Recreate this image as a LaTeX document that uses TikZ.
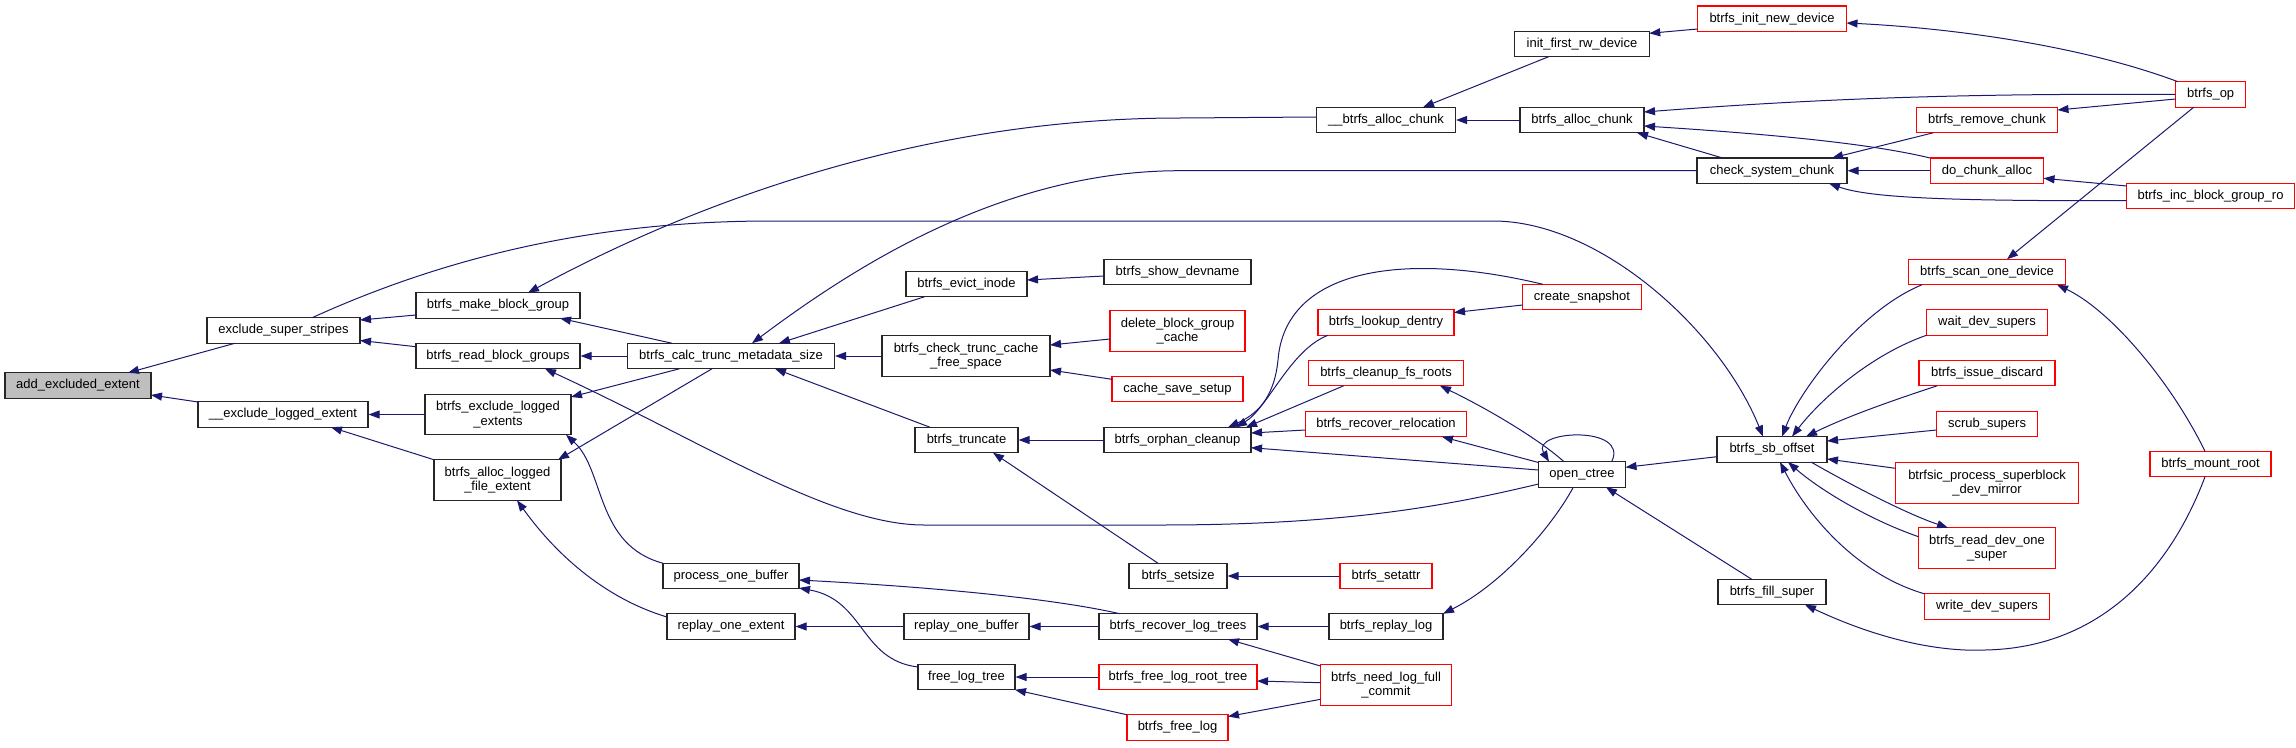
\documentclass[tikz,border=0pt]{standalone}
\usepackage{fontspec}
\setmainfont{Liberation Sans}
\usetikzlibrary{arrows.meta}
\definecolor{edgeblue}{HTML}{191970}
\definecolor{nodegray}{HTML}{BFBFBF}
\tikzset{
  box/.style={draw=black!85, line width=1.1pt, fill=white, inner sep=0pt, align=center,
    font=\fontsize{13}{14.5}\selectfont, minimum height=25.5pt},
  redbox/.style={box, draw=red},
  tall/.style={minimum height=40.5pt},
  edge/.style={draw=edgeblue, line width=1pt, arrows={Triangle[length=11pt,width=8pt]-}},
}
\begin{document}
\begin{tikzpicture}[x=1pt,y=-1pt]
\useasboundingbox (0,0) rectangle (2296,747);
% column 1
\node[box, fill=nodegray, minimum width=146pt] (aee) at (78,385.5) {add\_excluded\_extent};
% column 2
\node[box, minimum width=153pt] (ess) at (283.5,330.5) {exclude\_super\_stripes};
\node[box, minimum width=170pt] (ele) at (283,414.5) {\_\_exclude\_logged\_extent};
% column 3
\node[box, minimum width=164pt] (mbg) at (498,305.5) {btrfs\_make\_block\_group};
\node[box, minimum width=164pt] (rbg) at (498,356) {btrfs\_read\_block\_groups};
\node[box, tall, minimum width=146pt] (bel) at (498,414.5) {btrfs\_exclude\_logged\\\_extents};
\node[box, tall, minimum width=127pt] (bal) at (497.5,480) {btrfs\_alloc\_logged\\\_file\_extent};
% column 4
\node[box, minimum width=207pt] (calc) at (731,356) {btrfs\_calc\_trunc\_metadata\_size};
\node[box, minimum width=136pt] (pob) at (731,576) {process\_one\_buffer};
\node[box, minimum width=128pt] (roe) at (731,626.5) {replay\_one\_extent};
% column 5
\node[box, minimum width=121pt] (evict) at (966.5,284) {btrfs\_evict\_inode};
\node[box, tall, minimum width=168pt] (ctc) at (966,356) {btrfs\_check\_trunc\_cache\\\_free\_space};
\node[box, minimum width=103pt] (trunc) at (966.5,440) {btrfs\_truncate};
\node[box, minimum width=125pt] (rob) at (966.5,626.5) {replay\_one\_buffer};
\node[box, minimum width=97pt] (flt) at (966.5,677) {free\_log\_tree};
% column 6
\node[box, minimum width=147pt] (showdev) at (1177.5,272) {btrfs\_show\_devname};
\node[redbox, tall, minimum width=135pt] (dbgc) at (1177.5,331) {delete\_block\_group\\\_cache};
\node[redbox, minimum width=131pt] (css) at (1177.5,389) {cache\_save\_setup};
\node[box, minimum width=147pt] (orphan) at (1177.5,440) {btrfs\_orphan\_cleanup};
\node[box, minimum width=98pt] (setsize) at (1178,576) {btrfs\_setsize};
\node[box, minimum width=158pt] (rlt) at (1178,626.5) {btrfs\_recover\_log\_trees};
\node[redbox, minimum width=158pt] (flrt) at (1178,677) {btrfs\_free\_log\_root\_tree};
\node[redbox, minimum width=101pt] (bfl) at (1177.5,727.5) {btrfs\_free\_log};
% column 7
\node[box, minimum width=139pt] (bac2) at (1386,120) {\_\_btrfs\_alloc\_chunk};
\node[redbox, minimum width=136pt] (lookup) at (1386,322.5) {btrfs\_lookup\_dentry};
\node[redbox, minimum width=155pt] (cfr) at (1386,373) {btrfs\_cleanup\_fs\_roots};
\node[redbox, minimum width=161.5pt] (rr) at (1386,424) {btrfs\_recover\_relocation};
\node[redbox, minimum width=92pt] (setattr) at (1386,576) {btrfs\_setattr};
\node[box, minimum width=114pt] (rlog) at (1386,626.5) {btrfs\_replay\_log};
\node[redbox, tall, minimum width=131pt] (nlfc) at (1386,685) {btrfs\_need\_log\_full\\\_commit};
% column 8
\node[box, minimum width=134.5pt] (ifrw) at (1582,44) {init\_first\_rw\_device};
\node[box, minimum width=124pt] (bac) at (1582,120) {btrfs\_alloc\_chunk};
\node[redbox, minimum width=118.6pt] (cs) at (1582,297) {create\_snapshot};
\node[box, minimum width=87pt] (oc) at (1582,474.5) {open\_ctree};
% column 9
\node[redbox, minimum width=149pt] (bind) at (1772,18.7) {btrfs\_init\_new\_device};
\node[box, minimum width=150pt] (csc) at (1772,170.7) {check\_system\_chunk};
\node[box, minimum width=110pt] (sbo) at (1772,449.3) {btrfs\_sb\_offset};
\node[box, minimum width=108pt] (fill) at (1772,592) {btrfs\_fill\_super};
% column 10
\node[redbox, minimum width=141pt] (brc) at (1987,120) {btrfs\_remove\_chunk};
\node[redbox, minimum width=113pt] (dca) at (1987,170.7) {do\_chunk\_alloc};
\node[redbox, minimum width=157pt] (sod) at (1987,272) {btrfs\_scan\_one\_device};
\node[redbox, minimum width=121pt] (wds) at (1987,322.5) {wait\_dev\_supers};
\node[redbox, minimum width=136pt] (bid) at (1987,373) {btrfs\_issue\_discard};
\node[redbox, minimum width=101pt] (ss) at (1987,424) {scrub\_supers};
\node[redbox, tall, minimum width=183pt] (bpsdm) at (1987,483) {btrfsic\_process\_superblock\\\_dev\_mirror};
\node[redbox, tall, minimum width=137pt] (rdos) at (1987,548) {btrfs\_read\_dev\_one\\\_super};
\node[redbox, minimum width=125.5pt] (wdsup) at (1987,606.5) {write\_dev\_supers};
% column 11
\node[redbox, minimum width=70pt] (bop) at (2210.7,94.5) {btrfs\_op};
\node[redbox, minimum width=167.6pt] (bigro) at (2210.5,196) {btrfs\_inc\_block\_group\_ro};
\node[redbox, minimum width=121pt] (mroot) at (2210.5,464) {btrfs\_mount\_root};

% edges (arrow tip at the start of each path)
\draw[edge] ([shift={(50,-12.75)}]aee.center) -- ([shift={(-48.5,12.75)}]ess.center);
\draw[edge] ([shift={(73,9.5)}]aee.center) -- ([shift={(-85,-12.5)}]ele.center);
\draw[edge] ([shift={(76.5,-10.5)}]ess.center) -- ([shift={(-82,9.5)}]mbg.center);
\draw[edge] ([shift={(76.5,10)}]ess.center) -- ([shift={(-82,-9.3)}]rbg.center);
\draw[edge] ([shift={(-9,-12.75)}]sbo.center) .. controls (1720,330) and (1600,221) .. (1493,221) -- (771,221) .. controls (600,221) and (450,255) .. ([shift={(28.5,-12.75)}]ess.center);
\draw[edge] ([shift={(30,-12.75)}]mbg.center) .. controls (640,232) and (880,118) .. (1180,118) -- ([shift={(-69.5,-3)}]bac2.center);
\draw[edge] (rbg.east) -- (calc.west);
\draw[edge] ([shift={(62,12.75)}]mbg.center) -- ([shift={(-59,-12.75)}]calc.center);
\draw[edge] ([shift={(47,12.75)}]rbg.center) .. controls (700,440) and (830,525) .. (924,525) -- (1160,525) .. controls (1350,525) and (1450,505) .. ([shift={(-43.5,9.5)}]oc.center);
\draw[edge] (ele.east) -- (bel.west);
\draw[edge] ([shift={(48,12.75)}]ele.center) -- ([shift={(-63.5,-20.25)}]bal.center);
\draw[edge] ([shift={(73,-17.5)}]bel.center) -- ([shift={(-51.5,12.75)}]calc.center);
\draw[edge] ([shift={(60.5,-20.25)}]bal.center) -- ([shift={(-19,12.75)}]calc.center);
\draw[edge] ([shift={(68,20.25)}]bel.center) .. controls (605,470) and (595,545) .. ([shift={(-68,-12.75)}]pob.center);
\draw[edge] ([shift={(19.5,20.25)}]bal.center) .. controls (560,560) and (610,600) .. ([shift={(-64,-9.5)}]roe.center);
\draw[edge] ([shift={(48,-12.75)}]calc.center) -- ([shift={(-42,12.75)}]evict.center);
\draw[edge] ([shift={(21,-12.75)}]calc.center) .. controls (850,270) and (1000,170.7) .. (1180,170.7) -- (csc.west);
\draw[edge] (calc.east) -- (ctc.west);
\draw[edge] ([shift={(44,12.75)}]calc.center) -- ([shift={(-36.5,-12.75)}]trunc.center);
\draw[edge] ([shift={(60.5,-4)}]evict.center) -- ([shift={(-73.5,4)}]showdev.center);
\draw[edge] ([shift={(84,-11)}]ctc.center) -- ([shift={(-67.5,8)}]dbgc.center);
\draw[edge] ([shift={(84,14)}]ctc.center) -- ([shift={(-65.5,-9.7)}]css.center);
\draw[edge] (trunc.east) -- (orphan.west);
\draw[edge] ([shift={(26.5,12.75)}]trunc.center) -- ([shift={(-20,-12.75)}]setsize.center);
\draw[edge] ([shift={(68,4)}]pob.center) .. controls (950,588) and (1060,600) .. ([shift={(-58,-12.75)}]rlt.center);
\draw[edge] ([shift={(68,12)}]pob.center) .. controls (865,600) and (860,660) .. ([shift={(-48.5,-10)}]flt.center);
\draw[edge] (roe.east) -- (rob.west);
\draw[edge] (rob.east) -- (rlt.west);
\draw[edge] (flt.east) -- (flrt.west);
\draw[edge] ([shift={(48.5,12.75)}]flt.center) -- ([shift={(-50.5,-12.75)}]bfl.center);
\draw[edge] ([shift={(37,-12.75)}]bac2.center) -- ([shift={(-33.5,12.75)}]ifrw.center);
\draw[edge] (bac2.east) -- (bac.west);
\draw[edge] ([shift={(67.25,-10.7)}]ifrw.center) -- ([shift={(-74.5,10.3)}]bind.center);
\draw[edge] ([shift={(62,-8)}]bac.center) .. controls (1800,100) and (1950,93) .. (bop.west);
\draw[edge] ([shift={(62,6)}]bac.center) .. controls (1800,136) and (1880,146) .. ([shift={(-57,-12.75)}]dca.center);
\draw[edge] ([shift={(55,12.75)}]bac.center) -- ([shift={(-49.5,-12.75)}]csc.center);
\draw[edge] ([shift={(68,-10)}]lookup.center) -- ([shift={(-59.3,8)}]cs.center);
\draw[edge] ([shift={(50.5,-12.75)}]orphan.center) .. controls (1255,415) and (1274,400) .. (1278,360) .. controls (1285,270) and (1400,250) .. ([shift={(-39.3,-12.75)}]cs.center);
\draw[edge] ([shift={(58.5,-12.75)}]orphan.center) .. controls (1268,408) and (1290,350) .. ([shift={(-58,12.75)}]lookup.center);
\draw[edge] ([shift={(68.5,-12.75)}]orphan.center) -- ([shift={(-42.3,12.75)}]cfr.center);
\draw[edge] ([shift={(73.5,-7)}]orphan.center) -- ([shift={(-80.75,6)}]rr.center);
\draw[edge] ([shift={(73.5,7.7)}]orphan.center) -- ([shift={(-43.5,-4.5)}]oc.center);
\draw[edge] ([shift={(54,12.75)}]cfr.center) .. controls (1490,410) and (1540,440) .. ([shift={(-18,-12.75)}]oc.center);
\draw[edge] ([shift={(56,12.75)}]rr.center) -- ([shift={(-43.5,-12)}]oc.center);
\draw[edge] ([shift={(-33,-12.75)}]oc.center) .. controls (1530,430) and (1630,425) .. ([shift={(29.6,-12.75)}]oc.center);
\draw[edge] ([shift={(43.5,-7.2)}]oc.center) -- ([shift={(-55,7.4)}]sbo.center);
\draw[edge] ([shift={(24,12.75)}]oc.center) -- ([shift={(-20.3,-12.75)}]fill.center);
\draw[edge] ([shift={(57,-12.75)}]rlog.center) .. controls (1500,585) and (1550,530) .. ([shift={(-8.7,12.75)}]oc.center);
\draw[edge] (setsize.east) -- (setattr.west);
\draw[edge] (rlt.east) -- (rlog.west);
\draw[edge] ([shift={(50,12.75)}]rlt.center) -- ([shift={(-65.5,-19)}]nlfc.center);
\draw[edge] ([shift={(79,4)}]flrt.center) -- ([shift={(-65.5,-2.3)}]nlfc.center);
\draw[edge] ([shift={(50.5,-11)}]bfl.center) -- ([shift={(-65.5,14.3)}]nlfc.center);
\draw[edge] ([shift={(74.5,4.3)}]bind.center) .. controls (1950,28) and (2080,45) .. ([shift={(-32.7,-12.75)}]bop.center);
\draw[edge] ([shift={(70.5,-10)}]brc.center) -- ([shift={(-35,4.5)}]bop.center);
\draw[edge] ([shift={(60,-12.75)}]csc.center) -- ([shift={(-53.6,12.75)}]brc.center);
\draw[edge] (csc.east) -- (dca.west);
\draw[edge] ([shift={(57,12.75)}]csc.center) .. controls (1870,198) and (1950,201) .. ([shift={(-83.8,4.7)}]bigro.center);
\draw[edge] ([shift={(56.5,7.6)}]dca.center) -- ([shift={(-83.8,-10)}]bigro.center);
\draw[edge] ([shift={(20,-12.75)}]sod.center) -- ([shift={(-17,12.75)}]bop.center);
\draw[edge] ([shift={(10,-12.75)}]sbo.center) .. controls (1800,390) and (1860,310) .. ([shift={(-65,12.75)}]sod.center);
\draw[edge] ([shift={(20,-12.75)}]sbo.center) .. controls (1820,400) and (1870,355) .. ([shift={(-60.5,12.75)}]wds.center);
\draw[edge] ([shift={(34,-12.75)}]sbo.center) .. controls (1850,415) and (1900,398) .. ([shift={(-49.7,12.75)}]bid.center);
\draw[edge] ([shift={(55,-8.3)}]sbo.center) -- ([shift={(-50.5,6)}]ss.center);
\draw[edge] ([shift={(55,9.7)}]sbo.center) -- ([shift={(-91.5,-14.7)}]bpsdm.center);
\draw[edge] ([shift={(-39,-20.25)}]rdos.center) .. controls (1910,515) and (1860,490) .. ([shift={(39,12.75)}]sbo.center);
\draw[edge] ([shift={(16,12.75)}]sbo.center) .. controls (1820,490) and (1870,520) .. ([shift={(-68.5,-11.3)}]rdos.center);
\draw[edge] ([shift={(8,12.75)}]sbo.center) .. controls (1810,520) and (1860,575) .. ([shift={(-62.75,-12.75)}]wdsup.center);
\draw[edge] ([shift={(33,12.75)}]fill.center) .. controls (1880,640) and (1940,652) .. (1985,650) .. controls (2100,648) and (2170,570) .. ([shift={(-5.5,12.75)}]mroot.center);
\draw[edge] ([shift={(70,12.75)}]sod.center) .. controls (2110,310) and (2170,380) .. ([shift={(-5.5,-12.75)}]mroot.center);
\end{tikzpicture}
\end{document}
